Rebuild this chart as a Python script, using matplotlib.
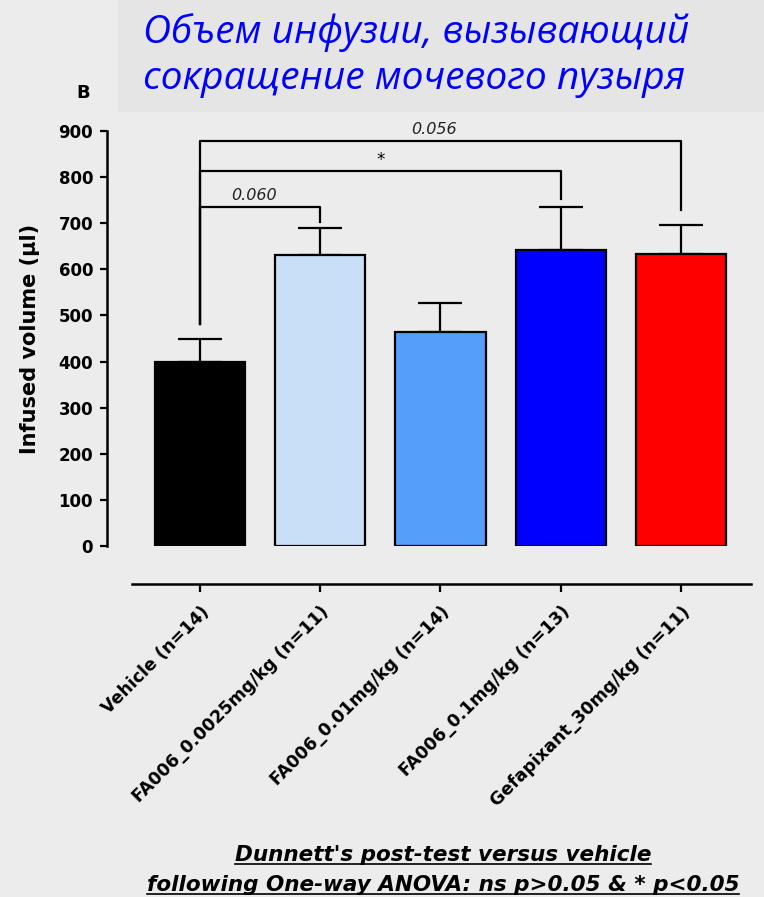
import numpy as np
import matplotlib.pyplot as plt
from matplotlib.patches import Rectangle
from matplotlib.lines import Line2D

# group data: mean infused volume and SEM (ul)
groups = ['Vehicle (n=14)', 'FA006_0.0025mg/kg (n=11)', 'FA006_0.01mg/kg (n=14)',
          'FA006_0.1mg/kg (n=13)', 'Gefapixant_30mg/kg (n=11)']
means = [398, 631, 464, 642, 634]
sems = [51, 58, 63, 93, 63]
colors = ['#000000', '#c9dff7', '#559ef9', '#0000ff', '#ff0000']
yticks = [0, 100, 200, 300, 400, 500, 600, 700, 800, 900]

# comparisons vs vehicle: (group index, bracket height, right leg end, label)
comparisons = [(1, 736, 703, '0.060'), (3, 814, 753, '*'), (4, 879, 729, '0.056')]
leg_start = 481

title_lines = ['Объем инфузии, вызывающий', 'сокращение мочевого пузыря']
footnote = ["Dunnett's post-test versus vehicle",
            'following One-way ANOVA: ns p>0.05 & * p<0.05']

W, H = 764, 897
fig = plt.figure(figsize=(W/100, H/100), dpi=100, facecolor='#ececec')

# title panel
fig.add_artist(Rectangle((118/W, 1-112/H), 1-118/W, 112/H, transform=fig.transFigure,
                         facecolor='#e5e5e5', edgecolor='none'))
fig.text(143/W, 1-43/H, title_lines[0], color='#0000ff', style='italic',
         family='Open Sans', fontsize=28, va='baseline')
fig.text(143/W, 1-89/H, title_lines[1], color='#0000ff', style='italic',
         family='Open Sans', fontsize=28, va='baseline')
fig.text(83/W, 1-93/H, 'B', fontsize=13, fontweight='bold', ha='center', va='center')

ax = fig.add_axes([107/W, 1-546/H, (751-107)/W, (546-131)/H])
ax.set_facecolor('none')

# spines first: set_position resets the tick labels
ax.spines['top'].set_visible(False)
ax.spines['right'].set_visible(False)
ax.spines['left'].set_linewidth(1.8)
ax.spines['bottom'].set_linewidth(1.8)
ax.spines['bottom'].set_position(('outward', 27))

x = np.arange(len(groups))
ax.bar(x, means, width=0.75, color=colors, edgecolor='black', linewidth=1.6, zorder=3)
ax.errorbar(x, means, yerr=[np.zeros(len(x)), sems], fmt='none', ecolor='black',
            elinewidth=1.6, capsize=16, capthick=1.6, zorder=2)

for i, h, end, lab in comparisons:
    ax.plot([0, 0, i, i], [leg_start, h, h, end], color='black', lw=1.6,
            clip_on=False, zorder=4)
    if lab == '*':
        ax.text(i/2, h+3, lab, ha='center', va='bottom', fontsize=12)
    else:
        ax.text(i/2 - 0.05, h+7, lab, ha='center', va='bottom', fontsize=11.5,
                style='italic', color='#222222')

ax.set_xlim(-0.773, 4.582)
ax.set_ylim(0, 900)
ax.spines['left'].set_bounds(0, 900)
ax.spines['bottom'].set_bounds(-0.566, 4.582)
ax.tick_params(axis='y', length=5, width=1.6, labelsize=12, pad=5)
ax.tick_params(axis='x', length=6, width=1.6, pad=8)
ax.set_yticks(yticks)
ax.set_xticks(x)
ax.set_xticklabels(groups, rotation=45, ha='right', rotation_mode='anchor',
                   fontsize=12.5, fontweight='bold')
for lab in ax.get_yticklabels():
    lab.set_fontweight('bold')
ax.set_ylabel('Infused volume (µl)', fontsize=15, fontweight='bold', labelpad=13)

# underlined footnote
fig.canvas.draw()
renderer = fig.canvas.get_renderer()
for line, yb in zip(footnote, [861, 891]):
    t = fig.text(443/W, 1-yb/H, line, ha='center', va='baseline', fontsize=15.5,
                 fontweight='bold', style='italic')
    bb = t.get_window_extent(renderer)
    fig.add_artist(Line2D([bb.x0/W, bb.x1/W], [1-(yb+3)/H]*2, transform=fig.transFigure,
                          color='black', lw=1.2))

fig.savefig('out.png', dpi=100, facecolor=fig.get_facecolor())
